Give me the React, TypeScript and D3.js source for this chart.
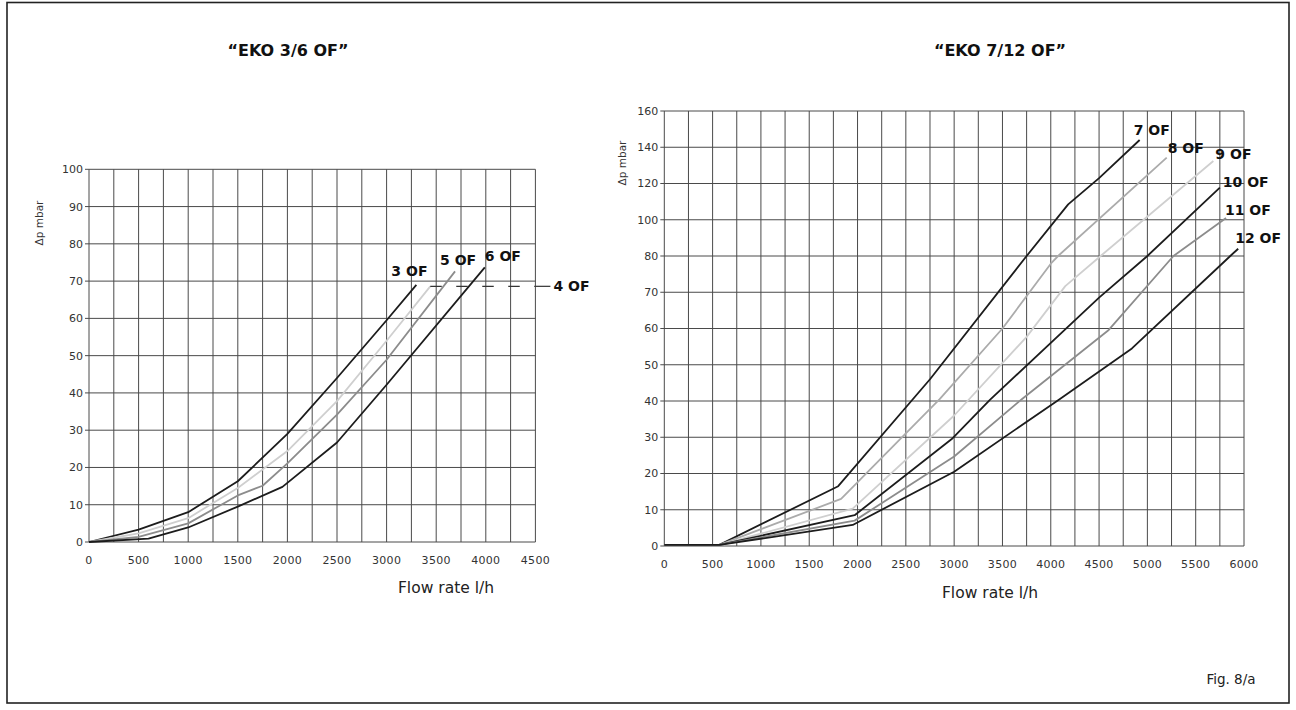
import React from 'react';
import * as d3 from 'd3';

// left chart "EKO 3/6 OF"
const leftFlowTicks = [0, 500, 1000, 1500, 2000, 2500, 3000, 3500, 4000, 4500];
const leftDpTicks = [0, 10, 20, 30, 40, 50, 60, 70, 80, 90, 100];

const of3Flow = [0, 500, 1000, 1500, 2000, 2500, 3000, 3300];
const of3Dp = [0, 3.3, 8, 16.3, 29, 44, 59.5, 69];
const of4Flow = [0, 500, 1000, 1500, 2000, 2500, 3000, 3440];
const of4Dp = [0, 2.3, 6.4, 14.5, 24.4, 37.8, 54, 68.6];
const of5Flow = [0, 500, 1000, 1500, 1750, 2000, 2500, 3000, 3690];
const of5Dp = [0, 1.4, 5, 12.5, 15.1, 21.1, 34.2, 48.9, 72.6];
const of6Flow = [0, 600, 1000, 1500, 1950, 2500, 3000, 3990];
const of6Dp = [0, 0.9, 3.9, 9.5, 14.8, 26.7, 42.2, 73.7];

// right chart "EKO 7/12 OF"
const rightFlowTicks = [0, 500, 1000, 1500, 2000, 2500, 3000, 3500, 4000, 4500, 5000, 5500, 6000];
const rightDpTicks = [0, 10, 20, 30, 40, 50, 60, 70, 80, 100, 120, 140, 160];

const of7Flow = [0, 570, 1800, 2750, 3750, 4180, 4500, 4920];
const of7Dp = [0.3, 0.3, 16.5, 46, 80, 108.5, 123, 144];
const of8Flow = [0, 570, 1830, 2850, 3500, 4010, 4076, 5200];
const of8Dp = [0.3, 0.3, 13, 40.5, 60, 78.2, 80, 134.3];
const of9Flow = [0, 570, 1950, 3000, 3750, 4150, 4516, 5683];
const of9Dp = [0.3, 0.3, 10.3, 36, 57.7, 71.7, 80, 132.4];
const of10Flow = [0, 570, 1970, 2975, 3370, 4500, 5000, 5750];
const of10Dp = [0.3, 0.3, 8.5, 29.5, 40.3, 68.5, 80, 117.7];
const of11Flow = [0, 570, 1970, 3000, 3700, 4600, 5270, 5814];
const of11Dp = [0.3, 0.3, 7, 24.7, 40.5, 59.6, 80, 101];
const of12Flow = [0, 570, 1950, 3000, 4080, 4840, 5858, 5940];
const of12Dp = [0.3, 0.3, 5.8, 20.5, 40.3, 54.5, 80, 84];

const BLACK = '#1c1c1c';
const MID = '#8c8c8c';
const SOFT = '#ababab';
const LIGHT = '#cfcfcf';
const GRID = '#4a4a4a';
const FONT = '"DejaVu Sans", sans-serif';

type Series = { name: string; flow: number[]; dp: number[]; color: string; dx: number; dy: number };

const leftSeries: Series[] = [
  { name: '3 OF', flow: of3Flow, dp: of3Dp, color: BLACK, dx: -25, dy: -14 },
  { name: '4 OF', flow: of4Flow, dp: of4Dp, color: LIGHT, dx: 0, dy: 0 },
  { name: '5 OF', flow: of5Flow, dp: of5Dp, color: MID, dx: -15, dy: -11 },
  { name: '6 OF', flow: of6Flow, dp: of6Dp, color: BLACK, dx: 0, dy: -11 },
];

const rightSeries: Series[] = [
  { name: '7 OF', flow: of7Flow, dp: of7Dp, color: BLACK, dx: -6, dy: -10 },
  { name: '8 OF', flow: of8Flow, dp: of8Dp, color: SOFT, dx: 1, dy: -10 },
  { name: '9 OF', flow: of9Flow, dp: of9Dp, color: LIGHT, dx: 2, dy: -7 },
  { name: '10 OF', flow: of10Flow, dp: of10Dp, color: BLACK, dx: 3, dy: -6 },
  { name: '11 OF', flow: of11Flow, dp: of11Dp, color: MID, dx: -1, dy: -8 },
  { name: '12 OF', flow: of12Flow, dp: of12Dp, color: BLACK, dx: -3, dy: -11 },
];

function Chart({ title, titleX, xScale, yScale, xTicks, yTicks, xStep, series, xLabelX, xLabelY, yLabelX, yLabelMid, leader }: any) {
  const [x0, x1] = xScale.range();
  const yr = yScale.range();
  const y0 = yr[0];
  const y1 = yr[yr.length - 1];
  const xd = xScale.domain();
  const gridX = d3.range(xd[0], xd[1] + 1, xStep);
  const line = d3.line<[number, number]>().x(d => xScale(d[0])).y(d => yScale(d[1]));

  return (
    <g>
      <text x={titleX} y={56} textAnchor="middle" fontFamily={FONT} fontWeight="bold" fontSize={16} fill="#111">
        {title}
      </text>
      {/* grid */}
      {gridX.map((v: number) => (
        <line key={'gx' + v} x1={xScale(v)} x2={xScale(v)} y1={y0} y2={y1} stroke={GRID} strokeWidth={1} />
      ))}
      {yTicks.map((v: number) => (
        <line key={'gy' + v} x1={x0 - 4} x2={x1} y1={yScale(v)} y2={yScale(v)} stroke={GRID} strokeWidth={1} />
      ))}
      {/* tick labels */}
      {yTicks.map((v: number) => (
        <text key={'ty' + v} x={x0 - 6} y={yScale(v)} dy="0.36em" textAnchor="end" fontFamily={FONT} fontSize={11} fill="#333">
          {v}
        </text>
      ))}
      {xTicks.map((v: number) => (
        <text key={'tx' + v} x={xScale(v)} y={y0 + 22} textAnchor="middle" fontFamily={FONT} fontSize={11} letterSpacing={0.3} fill="#333">
          {v}
        </text>
      ))}
      <text x={xLabelX} y={xLabelY} textAnchor="middle" fontFamily={FONT} fontSize={15.5} fill="#222">
        Flow rate l/h
      </text>
      <text transform={`translate(${yLabelX},${yLabelMid}) rotate(-90)`} textAnchor="middle" dy="0.35em" fontFamily={FONT} fontSize={10.5} fill="#333">
        Δp mbar
      </text>
      {/* curves */}
      {series.map((s: Series) => {
        const pts = s.flow.map((f, i) => [f, s.dp[i]] as [number, number]);
        return (
          <path key={s.name} d={line(pts) || ''} fill="none" stroke={s.color} strokeWidth={1.8} strokeLinejoin="round" />
        );
      })}
      {series.map((s: Series) => {
        const n = s.flow.length - 1;
        const ex = xScale(s.flow[n]);
        const ey = yScale(s.dp[n]);
        if (leader && leader === s.name) {
          const lx = x1 + 15;
          return (
            <g key={'lb' + s.name}>
              <line x1={ex} x2={x1} y1={ey} y2={ey} stroke="#333" strokeWidth={1.2} strokeDasharray="11.5,14.5" />
              <line x1={x1} x2={lx} y1={ey} y2={ey} stroke="#333" strokeWidth={1.2} />
              <text x={lx + 3} y={ey} dy="0.36em" fontFamily={FONT} fontWeight="bold" fontSize={14} fill="#111">
                {s.name}
              </text>
            </g>
          );
        }
        return (
          <text key={'lb' + s.name} x={ex + s.dx} y={ey + s.dy} dy="0.36em" fontFamily={FONT} fontWeight="bold" fontSize={14} fill="#111">
            {s.name}
          </text>
        );
      })}
    </g>
  );
}

export default function App() {
  const xLeft = d3.scaleLinear().domain([0, 4500]).range([89, 535.4]);
  const yLeft = d3.scaleLinear().domain([0, 100]).range([542, 169.3]);
  const xRight = d3.scaleLinear().domain([0, 6000]).range([664.3, 1244]);
  const yRight = d3.scaleLinear().domain([0, 80, 160]).range([546, 256, 111]);

  return (
    <div style={{ position: 'absolute', left: 0, top: 0 }}>
      <svg width={1296} height={710} style={{ display: 'block', background: '#fff' }}>
        <rect x={7} y={2.5} width={1282} height={700.5} fill="none" stroke="#222" strokeWidth={1.6} />
        <Chart
          title="“EKO 3/6 OF”"
          titleX={288}
          xScale={xLeft}
          yScale={yLeft}
          xTicks={leftFlowTicks}
          yTicks={leftDpTicks}
          xStep={250}
          series={leftSeries}
          xLabelX={446}
          xLabelY={593}
          yLabelX={39}
          yLabelMid={223}
          leader="4 OF"
        />
        <Chart
          title="“EKO 7/12 OF”"
          titleX={1000}
          xScale={xRight}
          yScale={yRight}
          xTicks={rightFlowTicks}
          yTicks={rightDpTicks}
          xStep={250}
          series={rightSeries}
          xLabelX={990}
          xLabelY={598}
          yLabelX={622}
          yLabelMid={163}
        />
        <text x={1231} y={684} textAnchor="middle" fontFamily={FONT} fontSize={13.5} fill="#222">
          Fig. 8/a
        </text>
      </svg>
    </div>
  );
}
